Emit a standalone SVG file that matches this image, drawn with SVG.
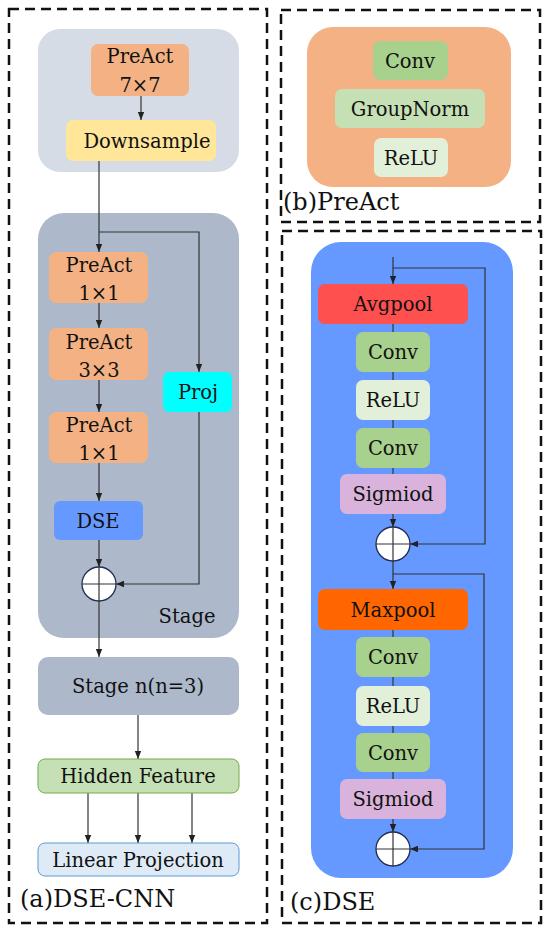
<svg xmlns="http://www.w3.org/2000/svg" width="550" height="935" viewBox="0 0 550 935">
<defs>
<style>
text{font-family:"DejaVu Serif","Liberation Serif",serif;fill:#111;text-anchor:middle;font-size:19.5px}
.lbl{text-anchor:start;font-size:24px}
.frame{fill:none;stroke:#111;stroke-width:2.5;stroke-dasharray:10 6}
.ln{fill:none;stroke:#333;stroke-width:1.2}
.pre{fill:#f4b183}
.conv{fill:#a9d18e}
.gn{fill:#c5e0b4}
.relu{fill:#e2f0d9}
.sig{fill:#d9b3dc}
.circ{fill:#fff;stroke:#1f2d50;stroke-width:1.3}
</style>
<marker id="ah" markerUnits="userSpaceOnUse" markerWidth="8" markerHeight="8" refX="8" refY="4" orient="auto">
<path d="M0,0.8 L8,4 L0,7.2 z" fill="#222"/>
</marker>
</defs>
<rect width="550" height="935" fill="#fff"/>
<g id="frames">
<rect class="frame" x="9" y="9" width="258" height="914"/>
<rect class="frame" x="281" y="10" width="259" height="212"/>
<rect class="frame" x="282" y="231" width="259" height="692"/>
</g>
<g id="containers">
<rect x="38" y="29" width="201" height="143" rx="22" fill="#d6dce5"/>
<rect x="38" y="213" width="201" height="425" rx="26" fill="#adb9ca"/>
<rect x="307" y="27" width="204" height="160" rx="26" fill="#f4b183"/>
<rect x="311" y="242" width="202" height="636" rx="30" fill="#6699ff"/>
</g>
<g id="connectors">
<line class="ln" x1="141" y1="96" x2="141" y2="120" marker-end="url(#ah)"/>
<line class="ln" x1="99" y1="161" x2="99" y2="252" marker-end="url(#ah)"/>
<polyline class="ln" points="99,232 199,232 199,372" marker-end="url(#ah)"/>
<line class="ln" x1="99" y1="303" x2="99" y2="328" marker-end="url(#ah)"/>
<line class="ln" x1="99" y1="380" x2="99" y2="412" marker-end="url(#ah)"/>
<line class="ln" x1="99" y1="463" x2="99" y2="501" marker-end="url(#ah)"/>
<line class="ln" x1="99" y1="540" x2="99" y2="567" marker-end="url(#ah)"/>
<polyline class="ln" points="199,412 199,584 116,584" marker-end="url(#ah)"/>
<line class="ln" x1="99" y1="601" x2="99" y2="657" marker-end="url(#ah)"/>
<line class="ln" x1="138" y1="715" x2="138" y2="759" marker-end="url(#ah)"/>
<line class="ln" x1="88" y1="793" x2="88" y2="843" marker-end="url(#ah)"/>
<line class="ln" x1="138" y1="793" x2="138" y2="843" marker-end="url(#ah)"/>
<line class="ln" x1="192" y1="793" x2="192" y2="843" marker-end="url(#ah)"/>
<line class="ln" x1="393" y1="257" x2="393" y2="284" marker-end="url(#ah)"/>
<line class="ln" x1="393" y1="324" x2="393" y2="527" marker-end="url(#ah)"/>
<polyline class="ln" points="393,268 485,268 485,544 410,544" marker-end="url(#ah)"/>
<line class="ln" x1="393" y1="561" x2="393" y2="589" marker-end="url(#ah)"/>
<polyline class="ln" points="393,574 484,574 484,849 410,849" marker-end="url(#ah)"/>
<line class="ln" x1="393" y1="630" x2="393" y2="832" marker-end="url(#ah)"/>
</g>
<g id="preact77"><rect class="pre" x="91" y="44" width="98" height="52" rx="7"/><text x="140" y="63">PreAct</text><text x="140" y="92">7×7</text></g>
<g id="downsample"><rect x="66" y="120" width="150" height="41" rx="7" fill="#ffe699"/><text x="147" y="148">Downsample</text></g>
<g id="preact11a"><rect class="pre" x="49" y="252" width="99" height="51" rx="7"/><text x="99" y="272">PreAct</text><text x="99" y="300">1×1</text></g>
<g id="preact33"><rect class="pre" x="49" y="328" width="99" height="52" rx="7"/><text x="99" y="349">PreAct</text><text x="99" y="377">3×3</text></g>
<g id="preact11b"><rect class="pre" x="49" y="412" width="99" height="51" rx="7"/><text x="99" y="432">PreAct</text><text x="99" y="460">1×1</text></g>
<g id="proj"><rect x="163" y="372" width="69" height="40" rx="6" fill="#00ffff"/><text x="198" y="399">Proj</text></g>
<g id="dse"><rect x="54" y="501" width="89" height="39" rx="6" fill="#6699ff"/><text x="98" y="528">DSE</text></g>
<g id="add1"><circle class="circ" cx="99" cy="584" r="17"/><line class="ln" x1="82" y1="584" x2="116" y2="584"/><line class="ln" x1="99" y1="567" x2="99" y2="601"/></g>
<g id="stage-label"><text x="187" y="623">Stage</text></g>
<g id="stagen"><rect x="38" y="657" width="201" height="58" rx="10" fill="#adb9ca"/><text x="138" y="693">Stage n(n=3)</text></g>
<g id="hidden"><rect x="38" y="759" width="201" height="34" rx="7" fill="#c5e0b4" stroke="#70ad47" stroke-width="1"/><text x="138" y="783">Hidden Feature</text></g>
<g id="linproj"><rect x="38" y="843" width="201" height="33" rx="7" fill="#deebf7" stroke="#5b9bd5" stroke-width="1"/><text x="138" y="867">Linear Projection</text></g>
<g id="label-a"><text class="lbl" x="20" y="907">(a)DSE-CNN</text></g>
<g id="b-conv"><rect class="conv" x="373" y="41" width="75" height="39" rx="7"/><text x="410" y="68">Conv</text></g>
<g id="b-gn"><rect class="gn" x="335" y="89" width="150" height="39" rx="7"/><text x="410" y="116">GroupNorm</text></g>
<g id="b-relu"><rect class="relu" x="374" y="138" width="74" height="39" rx="7"/><text x="411" y="165">ReLU</text></g>
<g id="label-b"><text class="lbl" x="283" y="210">(b)PreAct</text></g>
<g id="avgpool"><rect x="318" y="284" width="150" height="40" rx="7" fill="#ff5050"/><text x="393" y="311">Avgpool</text></g>
<g id="c-conv1"><rect class="conv" x="356" y="332" width="74" height="40" rx="7"/><text x="393" y="359">Conv</text></g>
<g id="c-relu1"><rect class="relu" x="356" y="380" width="74" height="40" rx="7"/><text x="393" y="407">ReLU</text></g>
<g id="c-conv2"><rect class="conv" x="356" y="428" width="74" height="40" rx="7"/><text x="393" y="455">Conv</text></g>
<g id="c-sig1"><rect class="sig" x="340" y="474" width="106" height="40" rx="7"/><text x="393" y="501">Sigmiod</text></g>
<g id="add2"><circle class="circ" cx="393" cy="544" r="17"/><line class="ln" x1="376" y1="544" x2="410" y2="544"/><line class="ln" x1="393" y1="527" x2="393" y2="561"/></g>
<g id="maxpool"><rect x="318" y="589" width="150" height="41" rx="7" fill="#ff6600"/><text x="393" y="617">Maxpool</text></g>
<g id="c-conv3"><rect class="conv" x="356" y="637" width="74" height="40" rx="7"/><text x="393" y="664">Conv</text></g>
<g id="c-relu2"><rect class="relu" x="356" y="686" width="74" height="40" rx="7"/><text x="393" y="713">ReLU</text></g>
<g id="c-conv4"><rect class="conv" x="356" y="733" width="74" height="39" rx="7"/><text x="393" y="760">Conv</text></g>
<g id="c-sig2"><rect class="sig" x="340" y="779" width="106" height="40" rx="7"/><text x="393" y="806">Sigmiod</text></g>
<g id="add3"><circle class="circ" cx="393" cy="849" r="17"/><line class="ln" x1="376" y1="849" x2="410" y2="849"/><line class="ln" x1="393" y1="832" x2="393" y2="866"/></g>
<g id="label-c"><text class="lbl" x="290" y="910">(c)DSE</text></g>
</svg>
